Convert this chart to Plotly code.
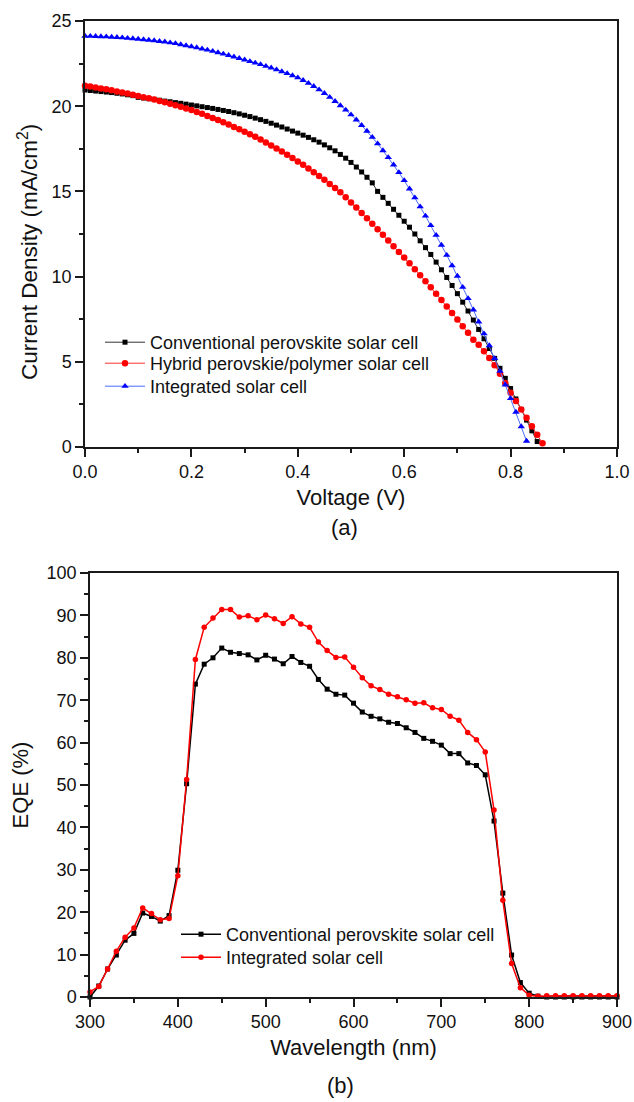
import plotly.graph_objects as go

# ---------------- Panel (a): J-V data ----------------
voltage = [0.00, 0.01, 0.02, 0.03, 0.04, 0.05, 0.06, 0.07, 0.08, 0.09,
           0.10, 0.11, 0.12, 0.13, 0.14, 0.15, 0.16, 0.17, 0.18, 0.19,
           0.20, 0.21, 0.22, 0.23, 0.24, 0.25, 0.26, 0.27, 0.28, 0.29,
           0.30, 0.31, 0.32, 0.33, 0.34, 0.35, 0.36, 0.37, 0.38, 0.39,
           0.40, 0.41, 0.42, 0.43, 0.44, 0.45, 0.46, 0.47, 0.48, 0.49,
           0.50, 0.51, 0.52, 0.53, 0.54, 0.55, 0.56, 0.57, 0.58, 0.59,
           0.60, 0.61, 0.62, 0.63, 0.64, 0.65, 0.66, 0.67, 0.68, 0.69,
           0.70, 0.71, 0.72, 0.73, 0.74, 0.75, 0.76, 0.77, 0.78, 0.79,
           0.80, 0.81, 0.82, 0.83, 0.84, 0.85, 0.86]

j_conventional = [20.95, 20.92, 20.89, 20.86, 20.83, 20.80, 20.76, 20.72, 20.67, 20.62,
                  20.52, 20.48, 20.44, 20.40, 20.35, 20.30, 20.26, 20.21, 20.17, 20.12,
                  20.07, 20.02, 19.97, 19.92, 19.87, 19.81, 19.75, 19.69, 19.62, 19.55,
                  19.47, 19.39, 19.30, 19.21, 19.11, 19.00, 18.89, 18.78, 18.66, 18.54,
                  18.42, 18.30, 18.17, 18.03, 17.89, 17.73, 17.56, 17.38, 17.17, 16.95,
                  16.70, 16.43, 16.14, 15.83, 15.50, 15.00, 14.65, 14.30, 13.95, 13.60,
                  13.25, 12.90, 12.50, 12.10, 11.70, 11.30, 10.85, 10.40, 9.95, 9.48,
                  9.00, 8.50, 7.98, 7.45, 6.90, 6.35, 5.78, 5.20, 4.62, 4.03,
                  3.43, 2.82, 2.20, 1.58, 0.95, 0.32]

j_hybrid = [21.20, 21.15, 21.10, 21.04, 20.99, 20.93, 20.87, 20.80, 20.74, 20.67,
            20.60, 20.53, 20.46, 20.39, 20.31, 20.23, 20.15, 20.06, 19.97, 19.87,
            19.77, 19.66, 19.55, 19.43, 19.31, 19.19, 19.06, 18.92, 18.78, 18.64,
            18.50, 18.35, 18.20, 18.04, 17.87, 17.70, 17.52, 17.34, 17.15, 16.96,
            16.76, 16.56, 16.35, 16.13, 15.91, 15.68, 15.44, 15.20, 14.95, 14.65,
            14.35, 14.05, 13.73, 13.42, 13.10, 12.78, 12.45, 12.12, 11.78, 11.45,
            11.12, 10.78, 10.43, 10.08, 9.73, 9.37, 9.00, 8.63, 8.25, 7.87,
            7.48, 7.09, 6.70, 6.30, 6.00, 5.62, 5.22, 4.80, 4.30, 3.75,
            3.18, 2.70, 2.20, 1.72, 1.22, 0.72, 0.22]

j_integrated = [24.12, 24.11, 24.10, 24.09, 24.08, 24.06, 24.04, 24.02, 23.99, 23.97,
                23.94, 23.91, 23.88, 23.85, 23.81, 23.78, 23.73, 23.68, 23.62, 23.56,
                23.50, 23.44, 23.37, 23.30, 23.23, 23.15, 23.07, 22.99, 22.90, 22.81,
                22.72, 22.63, 22.54, 22.45, 22.35, 22.25, 22.14, 22.03, 21.92, 21.80,
                21.67, 21.52, 21.35, 21.17, 20.97, 20.76, 20.53, 20.29, 20.04, 19.78,
                19.50, 19.20, 18.88, 18.54, 18.18, 17.80, 17.40, 16.99, 16.56, 16.11,
                15.64, 15.15, 14.63, 14.10, 13.56, 13.00, 12.43, 11.85, 11.26, 10.65,
                10.03, 9.38, 8.72, 8.05, 7.35, 6.65, 5.95, 5.20, 4.45, 3.65,
                2.85, 2.05, 1.20, 0.35]

# ---------------- Panel (b): EQE data ----------------
wavelength = [300, 310, 320, 330, 340, 350, 360, 370, 380, 390,
              400, 410, 420, 430, 440, 450, 460, 470, 480, 490,
              500, 510, 520, 530, 540, 550, 560, 570, 580, 590,
              600, 610, 620, 630, 640, 650, 660, 670, 680, 690,
              700, 710, 720, 730, 740, 750, 760, 770, 780, 790,
              800, 810, 820, 830, 840, 850, 860, 870, 880, 890, 900]

eqe_conventional = [0.0, 2.6, 6.6, 9.9, 13.4, 15.0, 19.8, 19.0, 17.9, 19.2,
                    29.9, 50.3, 73.8, 78.5, 80.0, 82.3, 81.3, 81.0, 80.7, 79.5,
                    80.6, 79.7, 78.6, 80.3, 78.9, 78.0, 74.9, 72.6, 71.4, 71.2,
                    69.3, 67.2, 66.2, 65.6, 64.8, 64.5, 63.5, 62.4, 61.0, 60.3,
                    59.4, 57.4, 57.4, 55.2, 54.6, 52.4, 41.5, 24.5, 9.9, 3.4,
                    0.9, 0.2, 0.0, 0.0, 0.0, 0.0, 0.0, 0.0, 0.0, 0.0, 0.0]

eqe_integrated = [1.2, 2.5, 6.6, 10.8, 14.1, 16.3, 21.0, 19.7, 18.2, 18.5,
                  28.6, 51.3, 79.6, 87.2, 89.4, 91.4, 91.4, 89.6, 89.9, 89.0,
                  90.1, 89.2, 88.1, 89.7, 88.0, 87.2, 83.7, 81.7, 80.1, 80.2,
                  77.8, 75.3, 73.4, 72.5, 71.4, 70.8, 70.1, 69.3, 69.4, 68.2,
                  67.8, 66.2, 65.3, 62.4, 60.7, 57.8, 44.1, 22.8, 7.9, 2.2,
                  0.4, 0.2, 0.3, 0.3, 0.3, 0.3, 0.3, 0.3, 0.3, 0.3, 0.3]

FONT = "Liberation Sans, Arial, sans-serif"
W, H = 634, 1102

fig = go.Figure()

# Panel (a) traces
fig.add_trace(go.Scatter(
    x=voltage[:len(j_conventional)], y=j_conventional, mode="lines+markers",
    name="Conventional perovskite solar cell",
    line=dict(color="#333333", width=1),
    marker=dict(symbol="square", size=5, color="#000000"),
    xaxis="x", yaxis="y", legend="legend", showlegend=True, cliponaxis=False))
fig.add_trace(go.Scatter(
    x=voltage[:len(j_hybrid)], y=j_hybrid, mode="lines+markers",
    name="Hybrid perovskie/polymer solar cell",
    line=dict(color="#ff3030", width=1),
    marker=dict(symbol="circle", size=6.5, color="#ff0000"),
    xaxis="x", yaxis="y", legend="legend3", showlegend=True, cliponaxis=False))
fig.add_trace(go.Scatter(
    x=voltage[:len(j_integrated)], y=j_integrated, mode="lines+markers",
    name="Integrated solar cell",
    line=dict(color="#4a6cff", width=1),
    marker=dict(symbol="triangle-up", size=6.5, color="#0000ff"),
    xaxis="x", yaxis="y", legend="legend4", showlegend=True, cliponaxis=False))

# Panel (b) traces
fig.add_trace(go.Scatter(
    x=wavelength, y=eqe_conventional, mode="lines+markers",
    name="Conventional perovskite solar cell",
    line=dict(color="#000000", width=1.5),
    marker=dict(symbol="square", size=5, color="#000000"),
    xaxis="x2", yaxis="y2", legend="legend2", showlegend=True, cliponaxis=False))
fig.add_trace(go.Scatter(
    x=wavelength, y=eqe_integrated, mode="lines+markers",
    name="Integrated solar cell",
    line=dict(color="#ff0000", width=1.5),
    marker=dict(symbol="circle", size=5.5, color="#ff0000"),
    xaxis="x2", yaxis="y2", legend="legend5", showlegend=True, cliponaxis=False))

axis_common = dict(
    showgrid=False, zeroline=False, showline=True, linecolor="#1a1a1a",
    linewidth=1.5, mirror=True, ticks="outside", ticklen=8, tickwidth=1.5,
    tickcolor="#1a1a1a", tickfont=dict(family=FONT, size=18, color="#111111"),
    title_font=dict(family=FONT, size=22, color="#111111"), automargin=False,
)


def legend_at(x_px, top_px):
    return dict(x=x_px / W, y=1 - top_px / H, xanchor="left", yanchor="top",
                bgcolor="rgba(0,0,0,0)", font=dict(family=FONT, size=18, color="#111111"),
                itemwidth=40, tracegroupgap=0, visible=True)


fig.update_layout(
    width=W, height=H, margin=dict(l=0, r=0, t=0, b=0, autoexpand=False),
    paper_bgcolor="white", plot_bgcolor="white", showlegend=True,
    font=dict(family=FONT, color="#111111"),
    xaxis=dict(axis_common, domain=[85 / W, 617 / W], range=[0, 1], dtick=0.2,
               tickformat=".1f", anchor="y",
               minor=dict(dtick=0.1, ticklen=4, tickwidth=1.5, tickcolor="#1a1a1a", ticks="outside"),
               title=dict(text="Voltage (V)", standoff=8)),
    yaxis=dict(axis_common, domain=[1 - 447 / H, 1 - 21 / H], range=[0, 25], dtick=5,
               anchor="x",
               minor=dict(dtick=2.5, ticklen=4, tickwidth=1.5, tickcolor="#1a1a1a", ticks="outside")),
    xaxis2=dict(axis_common, domain=[90 / W, 617 / W], range=[300, 900], dtick=100,
                anchor="y2",
                minor=dict(dtick=50, ticklen=4, tickwidth=1.5, tickcolor="#1a1a1a", ticks="outside"),
                title=dict(text="Wavelength (nm)", standoff=8)),
    yaxis2=dict(axis_common, domain=[1 - 997 / H, 1 - 573 / H], range=[0, 100], dtick=10,
                anchor="x2",
                minor=dict(dtick=5, ticklen=4, tickwidth=1.5, tickcolor="#1a1a1a", ticks="outside"),
                title=dict(text="EQE (%)", standoff=12)),
    legend=legend_at(100, 324),
    legend3=legend_at(100, 345),
    legend4=legend_at(100, 368),
    legend2=legend_at(176, 916),
    legend5=legend_at(176, 939),
    annotations=[
        dict(text="Current Density (mA/cm<sup>2</sup>)", x=28 / W, y=1 - 252 / H,
             xref="paper", yref="paper", textangle=-90, showarrow=False,
             font=dict(family=FONT, size=22.5, color="#111111"),
             xanchor="center", yanchor="middle"),
        dict(text="(a)", x=345 / W, y=1 - 527 / H, xref="paper", yref="paper",
             showarrow=False, font=dict(family=FONT, size=22, color="#111111"),
             xanchor="center", yanchor="middle"),
        dict(text="(b)", x=340 / W, y=1 - 1085 / H, xref="paper", yref="paper",
             showarrow=False, font=dict(family=FONT, size=22, color="#111111"),
             xanchor="center", yanchor="middle"),
    ],
)

fig.write_html("out.html", config={"displayModeBar": False},
               post_script="document.body.style.margin='0';document.body.style.overflow='hidden';")
